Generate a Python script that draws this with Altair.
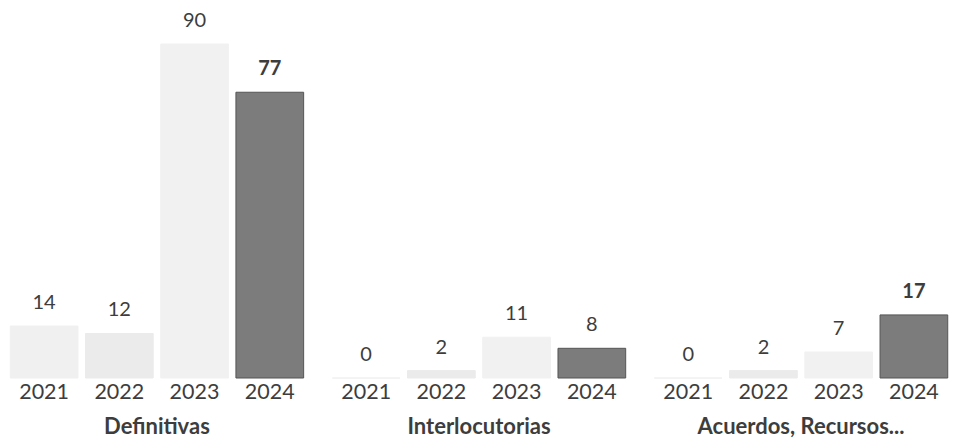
import altair as alt
import pandas as pd

groups = ["Definitivas", "Interlocutorias", "Acuerdos, Recursos..."]
years = ["2021", "2022", "2023", "2024"]
definitivas = [14, 12, 90, 77]
interlocutorias = [0, 2, 11, 8]
acuerdos = [0, 2, 7, 17]
bold_year = "2024"

rows = []
for g, vals in zip(groups, [definitivas, interlocutorias, acuerdos]):
    for y, v in zip(years, vals):
        rows.append({"group": g, "year": y, "value": v,
                     "bold": (y == bold_year and v > 10)})
df = pd.DataFrame(rows)
gdf = pd.DataFrame({"group": groups})

W, H = 942, 334
font = "Lato"
txt = "#3d3d3d"

xenc = alt.X("group:N", sort=groups, axis=None,
             scale=alt.Scale(paddingInner=0.075, paddingOuter=0.0))
xoff = alt.XOffset("year:N", sort=years,
                   scale=alt.Scale(paddingInner=0.1, paddingOuter=0.03))
yenc = alt.Y("value:Q", axis=None, scale=alt.Scale(domain=[0, 90], nice=False, zero=True))

base = alt.Chart(df)

bars = base.mark_bar(strokeWidth=1).encode(
    x=xenc, xOffset=xoff, y=yenc,
    color=alt.Color("year:N", sort=years, legend=None,
                    scale=alt.Scale(domain=years,
                                    range=["#f0f0f0", "#ebebeb", "#f1f1f1", "#7c7c7c"])),
    stroke=alt.Stroke("year:N", sort=years, legend=None,
                      scale=alt.Scale(domain=years,
                                      range=["#f0f0f0", "#ebebeb", "#f1f1f1", "#555555"])),
)

vals_reg = base.transform_filter("!datum.bold").mark_text(
    font=font, fontSize=20, color=txt, baseline="middle", dy=-23
).encode(x=xenc, xOffset=xoff, y=yenc, text="value:Q")

vals_bold = base.transform_filter("datum.bold").mark_text(
    font=font, fontSize=20, fontWeight="bold", color=txt, baseline="middle", dy=-23
).encode(x=xenc, xOffset=xoff, y=yenc, text="value:Q")

year_lbl = base.mark_text(
    font=font, fontSize=21.5, color=txt, baseline="middle"
).encode(x=xenc, xOffset=xoff, y=alt.value(H + 15), text="year:N")

group_lbl = alt.Chart(gdf).mark_text(
    font=font, fontSize=22, fontWeight="bold", color=txt, baseline="middle"
).encode(x=xenc, y=alt.value(H + 49), text="group:N")

chart = alt.layer(bars, vals_reg, vals_bold, year_lbl, group_lbl).properties(
    width=W, height=H,
    autosize=alt.AutoSizeParams(type="none"),
    padding={"left": 0, "top": 36, "right": 0, "bottom": 64},
    background="white",
).configure_view(stroke=None)

chart.save("out.html", embed_options={"renderer": "svg", "actions": False})
